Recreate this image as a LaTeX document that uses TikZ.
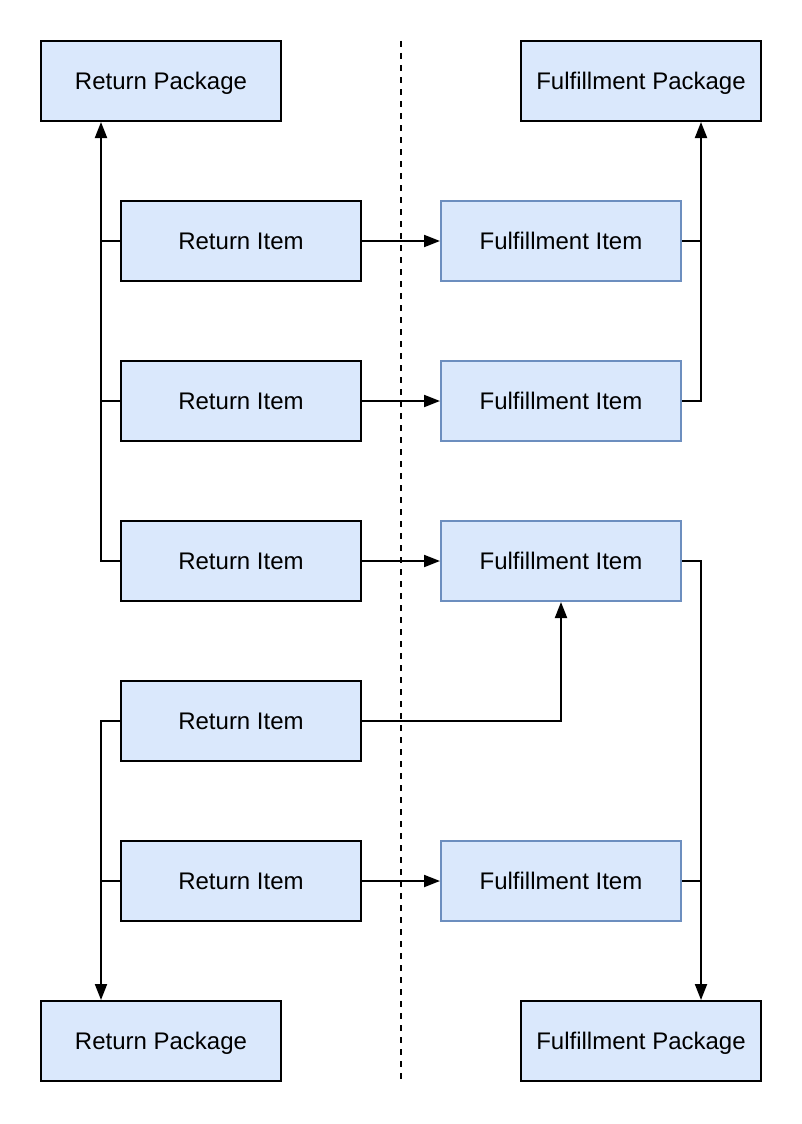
\documentclass[tikz,border=0pt]{standalone}
\usepackage{fontspec}
\setmainfont{Liberation Sans}
\usetikzlibrary{arrows.meta}
\definecolor{boxfill}{HTML}{DAE8FC}
\definecolor{boxblue}{HTML}{6C8EBF}
\begin{document}
\begin{tikzpicture}[x=1pt,y=-1pt,
  retbox/.style={draw=black,fill=boxfill,line width=2pt,minimum width=240pt,minimum height=80pt,inner sep=0pt,text height=17pt,text depth=0pt,font=\fontsize{24}{28}\selectfont},
  fulbox/.style={retbox,draw=boxblue},
  conn/.style={line width=2pt},
  arr/.style={conn,-{Triangle[length=16pt,width=12pt]}}]
\useasboundingbox (0,0) rectangle (802,1124);
\draw[line width=2pt,dash pattern=on 6pt off 6pt] (401,41) -- (401,1081);
\node[retbox] (rp1) at (161,81) {Return Package};
\node[retbox] (fp1) at (641,81) {Fulfillment Package};
\node[retbox] (ri1) at (241,241) {Return Item};
\node[retbox] (ri2) at (241,401) {Return Item};
\node[retbox] (ri3) at (241,561) {Return Item};
\node[retbox] (ri4) at (241,721) {Return Item};
\node[retbox] (ri5) at (241,881) {Return Item};
\node[fulbox] (fi1) at (561,241) {Fulfillment Item};
\node[fulbox] (fi2) at (561,401) {Fulfillment Item};
\node[fulbox] (fi3) at (561,561) {Fulfillment Item};
\node[fulbox] (fi5) at (561,881) {Fulfillment Item};
\node[retbox] (rp2) at (161,1041) {Return Package};
\node[retbox] (fp2) at (641,1041) {Fulfillment Package};
\coordinate (lt) at (101,561);
\coordinate (lb) at (101,721);
\coordinate (rt) at (701,401);
\coordinate (rb) at (701,561);
% left top trunk
\draw[arr] (ri3.west) -- (lt) -- (rp1.south -| lt);
\draw[conn] (ri1.west) -- (ri1.west -| lt);
\draw[conn] (ri2.west) -- (ri2.west -| lt);
% horizontal arrows
\draw[arr] (ri1) -- (fi1);
\draw[arr] (ri2) -- (fi2);
\draw[arr] (ri3) -- (fi3);
\draw[arr] (ri5) -- (fi5);
\draw[arr] (ri4.east) -| (fi3.south);
% right top trunk
\draw[arr] (fi2.east) -- (rt) -- (fp1.south -| rt);
\draw[conn] (fi1.east) -- (fi1.east -| rt);
% right bottom trunk
\draw[arr] (fi3.east) -- (rb) -- (fp2.north -| rb);
\draw[conn] (fi5.east) -- (fi5.east -| rb);
% left bottom trunk
\draw[arr] (ri4.west) -- (lb) -- (rp2.north -| lb);
\draw[conn] (ri5.west) -- (ri5.west -| lb);
\end{tikzpicture}
\end{document}
